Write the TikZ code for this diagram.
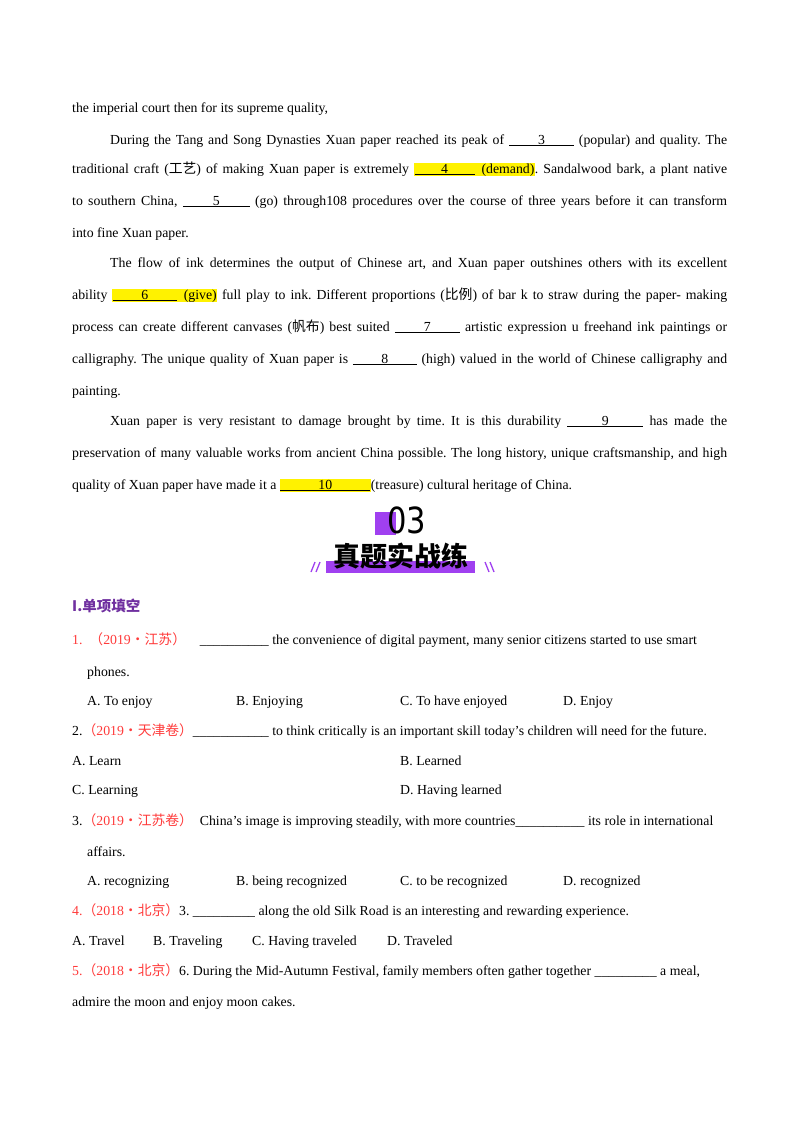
\documentclass[tikz,border=0pt]{standalone}
\usepackage{fontspec}
\setmainfont{Liberation Serif}
\newfontfamily\cjk{Noto Sans CJK SC}
\newfontfamily\cjkb{Noto Sans CJK SC Black}
\newfontfamily\thinsans{DejaVu Sans}[FakeStretch=0.85]
\definecolor{pur}{HTML}{A040F0}
\definecolor{hdr}{HTML}{7030A0}
\definecolor{red}{HTML}{FF3B3B}
\frenchspacing
\newcommand{\bl}[2]{\underline{\makebox[#1pt]{#2}}}
\newcommand{\hl}[1]{{\setlength\fboxsep{0.5pt}\colorbox{yellow}{#1}}}
\newcommand{\jl}[2]{\makebox[#1pt][s]{#2}}
\begin{document}
\begin{tikzpicture}[x=1pt,y=-1pt,
  tx/.style={anchor=base west,inner sep=0pt,font=\fontsize{13.8}{15}\selectfont}]
\useasboundingbox (0,0) rectangle (800,1132);
\fill[white] (0,0) rectangle (800,1132);
\node[tx] (l1) at (72,112) {the imperial court then for its supreme quality,};
\node[tx] (l2) at (110,144) {\jl{617}{During the Tang and Song Dynasties Xuan paper reached its peak of \bl{65}{3} (popular) and quality. The}};
\node[tx] (l3) at (72,173) {\jl{655}{traditional craft ({\cjk 工艺}) of making Xuan paper is extremely \hl{\bl{60}{4}\ \ (demand)}. Sandalwood bark, a plant native}};
\node[tx] (l4) at (72,205) {\jl{655}{to southern China, \bl{67}{5} (go) through108 procedures over the course of three years before it can transform}};
\node[tx] (l5) at (72,237) {into fine Xuan paper.};
\node[tx] (l6) at (110,267) {\jl{617}{The flow of ink determines the output of Chinese art, and Xuan paper outshines others with its excellent}};
\node[tx] (l7) at (72,299) {\jl{655}{ability \hl{\bl{64}{6}\ \ (give)} full play to ink. Different proportions ({\cjk 比例}) of bar k to straw during the paper- making}};
\node[tx] (l8) at (72,331) {\jl{655}{process can create different canvases ({\cjk 帆布}) best suited \bl{65}{7} artistic expression u freehand ink paintings or}};
\node[tx] (l9) at (72,363) {\jl{655}{calligraphy. The unique quality of Xuan paper is \bl{64}{8} (high) valued in the world of Chinese calligraphy and}};
\node[tx] (l10) at (72,395) {painting.};
\node[tx] (l11) at (110,425) {\jl{617}{Xuan paper is very resistant to damage brought by time. It is this durability \bl{76}{9} has made the}};
\node[tx] (l12) at (72,457) {\jl{655}{preservation of many valuable works from ancient China possible. The long history, unique craftsmanship, and high}};
\node[tx] (l13) at (72,489) {quality of Xuan paper have made it a \hl{\bl{90}{10}}(treasure) cultural heritage of China.};
% header
\fill[pur] (375,512) rectangle (396,535);
\node[inner sep=0pt,font=\fontsize{36}{36}\thinsans] (h03) at (407,520) {03};
\fill[pur] (326,561) rectangle (475,573);
\node[inner sep=0pt,font=\fontsize{27}{27}\cjkb] (htitle) at (401,556) {真题实战练};
\draw[pur,line width=1.3pt] (311,572)--(315,562) (316,572)--(320,562) (485,562)--(489,572) (490,562)--(494,572);
\node[anchor=west,inner sep=0pt,text=hdr,font=\fontsize{14.5}{16}\cjk\bfseries] (sec) at (72,606) {I.单项填空};
% questions
\node[tx] (q1) at (72,644) {\textcolor{red}{1.\ \ {\cjk （}2019{\cjk ·江苏）}}\ \ \ \ \_\_\_\_\_\_\_\_\_\_ the convenience of digital payment, many senior citizens started to use smart};
\node[tx] (q1b) at (87,676) {phones.};
\node[tx] (q1a) at (87,705) {A. To enjoy};
\node[tx] (q1bb) at (236,705) {B. Enjoying};
\node[tx] (q1c) at (400,705) {C. To have enjoyed};
\node[tx] (q1d) at (563,705) {D. Enjoy};
\node[tx] (q2) at (72,735) {2.\textcolor{red}{{\cjk （}2019{\cjk ·天津卷）}}\_\_\_\_\_\_\_\_\_\_\_ to think critically is an important skill today's children will need for the future.};
\node[tx] (q2a) at (72,765) {A. Learn};
\node[tx] (q2b) at (400,765) {B. Learned};
\node[tx] (q2c) at (72,794) {C. Learning};
\node[tx] (q2d) at (400,794) {D. Having learned};
\node[tx] (q3) at (72,825) {3.\textcolor{red}{{\cjk （}2019{\cjk ·江苏卷）}}\ \ China's image is improving steadily, with more countries\_\_\_\_\_\_\_\_\_\_ its role in international};
\node[tx] (q3b) at (87,856) {affairs.};
\node[tx] (q3a) at (87,885) {A. recognizing};
\node[tx] (q3bb) at (236,885) {B. being recognized};
\node[tx] (q3c) at (400,885) {C. to be recognized};
\node[tx] (q3d) at (563,885) {D. recognized};
\node[tx] (q4) at (72,915) {\textcolor{red}{4.{\cjk （}2018{\cjk ·北京）}}3. \_\_\_\_\_\_\_\_\_ along the old Silk Road is an interesting and rewarding experience.};
\node[tx] (q4a) at (72,945) {A. Travel};
\node[tx] (q4b) at (153,945) {B. Traveling};
\node[tx] (q4c) at (252,945) {C. Having traveled};
\node[tx] (q4d) at (387,945) {D. Traveled};
\node[tx] (q5) at (72,975) {\textcolor{red}{5.{\cjk （}2018{\cjk ·北京）}}6. During the Mid-Autumn Festival, family members often gather together \_\_\_\_\_\_\_\_\_ a meal,};
\node[tx] (q5b) at (72,1006) {admire the moon and enjoy moon cakes.};
\end{tikzpicture}
\end{document}
